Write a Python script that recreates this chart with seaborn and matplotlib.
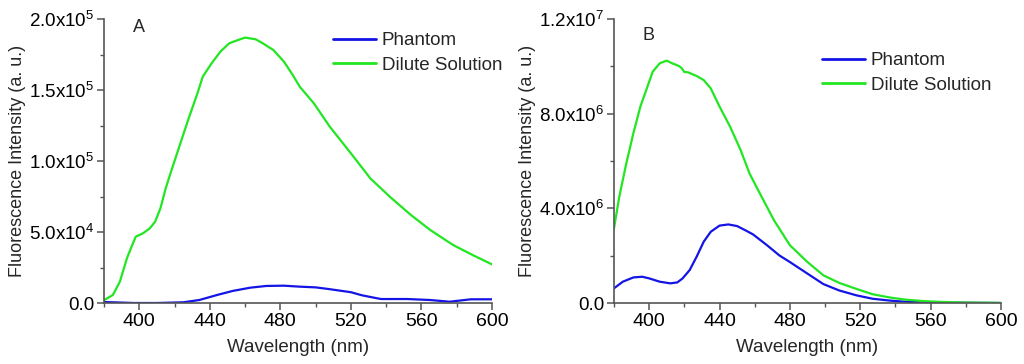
import numpy as np
import pandas as pd
import seaborn as sns
import matplotlib.pyplot as plt
from matplotlib.ticker import MultipleLocator

# ---------------- data ----------------
wl_a = [380, 385, 389, 393, 396, 398, 402, 406, 409, 412, 415, 418, 423, 428, 433, 436, 441,
        446, 451, 456, 460, 466, 470, 476, 482, 487, 491, 499, 508, 520, 531, 542, 554, 565,
        578, 589, 600]
dilute_a = [2000, 5600, 15000, 31500, 40800, 46700, 49000, 52600, 57300, 66700, 80800,
            92500, 111300, 130000, 147700, 159400, 168800, 177000, 182900, 185200, 186900,
            185700, 182900, 178200, 170000, 160600, 152300, 140600, 124200, 105400, 87800,
            74900, 62000, 51400, 40800, 33800, 27200]
wl_a_ph = [380, 390, 397, 410, 425, 434, 444, 453, 463, 472, 482, 491, 500, 507, 520, 526,
           530, 537, 552, 565, 576, 588, 600]
phantom_a = [700, 300, 0, 0, 500, 2100, 5600, 8500, 10800, 12000, 12200, 11500, 11000,
             9900, 7600, 5500, 4500, 2800, 2800, 2100, 900, 2600, 2600]

wl_b = [380, 383, 387, 391, 395, 399, 402, 406, 410, 413, 417, 418.5, 420, 422, 427, 431,
        435, 440, 446, 452, 457, 462, 471, 480, 490, 499, 508, 518, 527, 537, 546, 556, 565,
        579, 600]
dilute_b = [3.15e6, 4.49e6, 5.9e6, 7.17e6, 8.3e6, 9.14e6, 9.77e6, 10.13e6, 10.24e6, 10.13e6,
            10.01e6, 9.92e6, 9.76e6, 9.75e6, 9.59e6, 9.42e6, 9.07e6, 8.3e6, 7.45e6, 6.46e6,
            5.48e6, 4.76e6, 3.49e6, 2.44e6, 1.73e6, 1.17e6, 0.85e6, 0.59e6, 0.37e6, 0.23e6,
            0.14e6, 0.08e6, 0.05e6, 0.02e6, 0.005e6]
wl_b_ph = [380, 385, 391, 396, 400, 406, 412, 416, 419, 423, 427, 431, 435, 440, 445, 450,
           455, 459, 467, 474, 480, 490, 499, 508, 518, 527, 537, 546, 560, 600]
phantom_b = [0.62e6, 0.9e6, 1.08e6, 1.11e6, 1.04e6, 0.9e6, 0.83e6, 0.87e6, 1.04e6, 1.39e6,
             1.96e6, 2.59e6, 3.01e6, 3.27e6, 3.32e6, 3.25e6, 3.06e6, 2.9e6, 2.44e6, 2.01e6,
             1.73e6, 1.24e6, 0.8e6, 0.53e6, 0.32e6, 0.18e6, 0.1e6, 0.05e6, 0.02e6, 0.0]

series_names = ["Phantom", "Dilute Solution"]
xticks = [400, 440, 480, 520, 560, 600]
yticks_a = [0, 5e4, 1e5, 1.5e5, 2e5]
ylabels_a = ["0.0", r"5.0x10$^4$", r"1.0x10$^5$", r"1.5x10$^5$", r"2.0x10$^5$"]
yticks_b = [0, 4e6, 8e6, 1.2e7]
ylabels_b = ["0.0", r"4.0x10$^6$", r"8.0x10$^6$", r"1.2x10$^7$"]

# ---------------- style ----------------
sns.set_theme(style="ticks")
plt.rcParams['font.family'] = ['Liberation Sans', 'DejaVu Sans']
plt.rcParams['mathtext.fontset'] = 'custom'
plt.rcParams['mathtext.rm'] = 'Liberation Sans'
plt.rcParams['mathtext.it'] = 'Liberation Sans'

palette = {"Phantom": "#1414e6", "Dilute Solution": "#22e622"}

df_a = pd.concat([
    pd.DataFrame({"wl": wl_a_ph, "val": phantom_a, "series": "Phantom"}),
    pd.DataFrame({"wl": wl_a, "val": dilute_a, "series": "Dilute Solution"}),
])
df_b = pd.concat([
    pd.DataFrame({"wl": wl_b_ph, "val": phantom_b, "series": "Phantom"}),
    pd.DataFrame({"wl": wl_b, "val": dilute_b, "series": "Dilute Solution"}),
])

fig = plt.figure(figsize=(10.24, 3.64), dpi=100)
ax1 = fig.add_axes([104/1024, 1 - 303/364, (492-104)/1024, (303-19)/364])
ax2 = fig.add_axes([614/1024, 1 - 303/364, (1001-614)/1024, (303-19)/364])

spine_c = "#555555"

def style(ax, yt, yl, ymax, yminor, letter, lx, ly, leg_anchor):
    ax.set_xlim(380, 600)
    ax.set_ylim(0, ymax)
    ax.set_xticks(xticks)
    ax.xaxis.set_minor_locator(MultipleLocator(20))
    ax.set_yticks(yt)
    ax.set_yticklabels(yl)
    ax.yaxis.set_minor_locator(MultipleLocator(yminor))
    for s in ["top", "right"]:
        ax.spines[s].set_visible(False)
    for s in ["left", "bottom"]:
        ax.spines[s].set_color(spine_c)
        ax.spines[s].set_linewidth(1.2)
    ax.tick_params(axis="x", which="major", labelsize=14)
    ax.tick_params(axis="y", which="major", labelsize=13.5)
    ax.tick_params(axis="both", which="major", direction="out", length=5, width=1.1,
                   color=spine_c, pad=2, labelcolor="black")
    ax.tick_params(axis="both", which="minor", direction="out", length=3, width=1.0,
                   color=spine_c)
    ax.set_xlabel("Wavelength (nm)", fontsize=13.5, labelpad=7)
    ax.set_ylabel("Fluorescence Intensity (a. u.)", fontsize=13, labelpad=2)
    ax.text(lx, ly, letter, transform=fig.transFigure, fontsize=13, ha="center", va="center")
    leg = ax.legend(loc="upper left", bbox_to_anchor=leg_anchor, bbox_transform=fig.transFigure,
                    frameon=False, fontsize=13.5, handlelength=2.3, handletextpad=0.3,
                    labelspacing=0.4, borderaxespad=0, borderpad=0)
    for h in leg.get_lines():
        h.set_linewidth(2)

sns.lineplot(data=df_a, x="wl", y="val", hue="series", hue_order=series_names,
             palette=palette, ax=ax1, linewidth=1.6, estimator=None, sort=True)
sns.lineplot(data=df_b, x="wl", y="val", hue="series", hue_order=series_names,
             palette=palette, ax=ax2, linewidth=1.6, estimator=None, sort=True)

style(ax1, yticks_a, ylabels_a, 2e5, 2.5e4, "A", 139/1024, 1 - 28/364,
      (333/1024, 1 - 32/364))
style(ax2, yticks_b, ylabels_b, 1.2e7, 2e6, "B", 648/1024, 1 - 36/364,
      (822/1024, 1 - 52/364))

fig.savefig("out.png", dpi=100)
